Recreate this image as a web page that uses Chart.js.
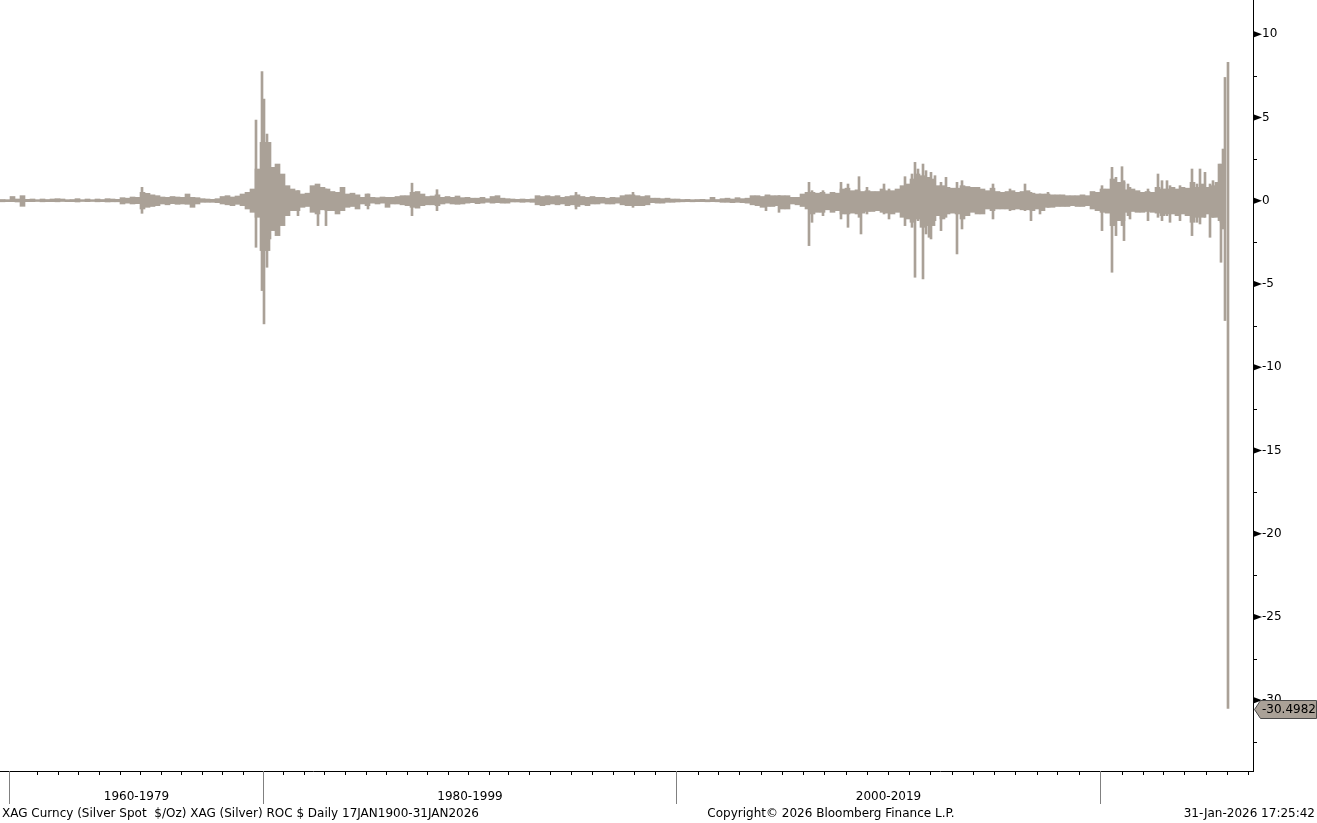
<!DOCTYPE html>
<html>
<head>
<meta charset="utf-8">
<title>XAG ROC Daily</title>
<script src="https://cdn.jsdelivr.net/npm/chart.js@4.4.1/dist/chart.umd.min.js"></script>
<style>
  html, body { margin: 0; padding: 0; background: #fff; }
  canvas { display: block; }
</style>
</head>
<body>
<canvas id="rocChart" width="1317" height="823"></canvas>
<script>
// x unit = observation bucket (~60 sessions after 1969, history before is compressed like the terminal does)
// envelope: typical daily ROC range (%) inside each bucket
const envHi = [
  0.07, 0.06, 0.25, 0.1, 0.3, 0.08, 0.1, 0.06, 0.1, 0.07,
  0.1, 0.12, 0.1, 0.06, 0.07, 0.12, 0.06, 0.1, 0.06, 0.1,
  0.07, 0.12, 0.1, 0.08, 0.18, 0.15, 0.22, 0.2, 0.5, 0.44,
  0.35, 0.3, 0.22, 0.2, 0.25, 0.22, 0.2, 0.4, 0.2, 0.18,
  0.12, 0.1, 0.08, 0.12, 0.25, 0.3, 0.22, 0.28, 0.4, 0.5,
  0.7, 1.9, 3.5, 3.5, 2.0, 2.2, 1.6, 0.9, 0.7, 0.6,
  0.4, 0.45, 0.9, 1.0, 0.8, 0.7, 0.55, 0.5, 0.8, 0.4,
  0.45, 0.35, 0.2, 0.4, 0.2, 0.18, 0.22, 0.2, 0.2, 0.25,
  0.3, 0.3, 0.5, 0.55, 0.4, 0.25, 0.28, 0.35, 0.2, 0.25,
  0.2, 0.28, 0.18, 0.2, 0.15, 0.15, 0.2, 0.12, 0.25, 0.3,
  0.15, 0.12, 0.1, 0.08, 0.1, 0.08, 0.1, 0.3, 0.25, 0.3,
  0.25, 0.3, 0.2, 0.25, 0.3, 0.35, 0.25, 0.2, 0.25, 0.2,
  0.2, 0.15, 0.2, 0.18, 0.3, 0.35, 0.35, 0.3, 0.25, 0.3,
  0.15, 0.15, 0.12, 0.15, 0.1, 0.1, 0.07, 0.08, 0.06, 0.07,
  0.08, 0.06, 0.2, 0.07, 0.12, 0.15, 0.1, 0.18, 0.12, 0.15,
  0.3, 0.3, 0.25, 0.35, 0.3, 0.3, 0.3, 0.3, 0.2, 0.2,
  0.4, 0.5, 0.5, 0.45, 0.5, 0.4, 0.5, 0.45, 0.7, 0.75,
  0.6, 0.65, 0.55, 0.6, 0.55, 0.55, 0.7, 0.6, 0.6, 0.7,
  0.9, 1.0, 1.3, 1.6, 1.5, 1.4, 1.3, 0.9, 0.9, 0.8,
  0.75, 0.75, 0.9, 0.85, 0.8, 0.8, 0.7, 0.6, 0.75, 0.55,
  0.5, 0.55, 0.6, 0.5, 0.55, 0.6, 0.45, 0.4, 0.4, 0.4,
  0.35, 0.35, 0.35, 0.3, 0.3, 0.3, 0.35, 0.3, 0.55, 0.5,
  0.7, 0.7, 1.3, 1.1, 1.1, 0.65, 0.7, 0.6, 0.5, 0.55,
  0.5, 0.8, 0.7, 0.7, 0.8, 0.7, 0.8, 0.75, 1.1, 0.8,
  1.0, 0.8, 0.9, 1.1, 1.5
];
const envLo = [
  -0.07, -0.06, -0.06, -0.08, -0.34, -0.06, -0.06, -0.05, -0.07, -0.06,
  -0.06, -0.07, -0.05, -0.06, -0.06, -0.08, -0.05, -0.06, -0.05, -0.07,
  -0.06, -0.08, -0.07, -0.07, -0.2, -0.15, -0.2, -0.18, -0.5, -0.4,
  -0.35, -0.3, -0.2, -0.25, -0.18, -0.22, -0.2, -0.22, -0.4, -0.2,
  -0.1, -0.1, -0.1, -0.12, -0.2, -0.25, -0.3, -0.22, -0.3, -0.5,
  -0.7, -1.0, -3.0, -3.0, -1.8, -2.1, -1.5, -0.9, -0.6, -0.6,
  -0.4, -0.35, -0.7, -0.8, -0.55, -0.6, -0.6, -0.8, -0.6, -0.4,
  -0.35, -0.5, -0.2, -0.3, -0.15, -0.2, -0.15, -0.4, -0.2, -0.2,
  -0.25, -0.3, -0.4, -0.45, -0.3, -0.25, -0.25, -0.3, -0.2, -0.15,
  -0.2, -0.22, -0.2, -0.15, -0.12, -0.18, -0.15, -0.1, -0.15, -0.12,
  -0.15, -0.15, -0.08, -0.08, -0.1, -0.08, -0.1, -0.25, -0.3, -0.25,
  -0.2, -0.25, -0.2, -0.3, -0.25, -0.35, -0.25, -0.3, -0.2, -0.2,
  -0.15, -0.2, -0.2, -0.15, -0.25, -0.3, -0.3, -0.3, -0.3, -0.25,
  -0.12, -0.15, -0.15, -0.1, -0.1, -0.08, -0.07, -0.06, -0.07, -0.06,
  -0.06, -0.07, -0.06, -0.07, -0.1, -0.1, -0.12, -0.1, -0.12, -0.15,
  -0.25, -0.3, -0.4, -0.35, -0.35, -0.3, -0.5, -0.5, -0.2, -0.25,
  -0.35, -0.5, -0.8, -0.7, -0.7, -0.55, -0.7, -0.6, -0.8, -0.8,
  -0.75, -0.8, -0.75, -0.65, -0.65, -0.6, -0.7, -0.75, -0.8, -0.7,
  -1.0, -1.1, -1.3, -1.1, -1.6, -1.5, -1.5, -0.9, -1.1, -0.8,
  -0.75, -0.8, -1.1, -0.9, -0.7, -0.8, -0.8, -0.5, -0.6, -0.5,
  -0.5, -0.5, -0.55, -0.5, -0.55, -0.55, -0.6, -0.5, -0.6, -0.4,
  -0.4, -0.35, -0.35, -0.35, -0.3, -0.35, -0.35, -0.3, -0.5, -0.6,
  -0.7, -0.75, -1.5, -1.2, -1.2, -0.7, -0.65, -0.7, -0.7, -0.65,
  -0.7, -0.75, -0.9, -0.8, -0.8, -0.9, -0.8, -0.9, -1.3, -1.0,
  -1.0, -0.8, -1.0, -1.0, -1.3
];

// single-day extremes sticking out of the envelope
const spikePos = [28.4, 51.2, 52.4, 52.8, 53.4, 54.0, 59.6, 63.6, 65.2, 68.4,
  73.6, 82.4, 87.4, 115.2, 126.6, 153.2, 155.8, 161.8, 162.4, 164.6,
  168.2, 169.6, 171.8, 172.2, 173.4, 176.8, 177.8, 181.0, 182.4, 183.0,
  183.6, 184.6, 185.2, 185.8, 186.2, 187.0, 188.2, 189.2, 191.4, 192.4,
  198.6, 202.0, 205.0, 206.2, 208.0, 209.6, 220.4, 222.4, 223.2, 224.4,
  224.8, 225.6, 226.0, 229.6, 231.6, 232.4, 233.4, 234.0, 236.0, 238.4,
  239.4, 240.0, 241.0, 242.0, 242.6, 243.8, 244.2, 244.6, 245.0, 245.6];
const spikeHi = [0.8, 4.84, 7.75, 6.1, 4.0, 3.5, 0.6, 0.8, 0.7, 0.8,
  0.4, 1.05, 0.66, 0.5, 0.5, 0.3, 0.3, 1.1, 0.6, 0.6,
  1.1, 1.0, 1.44, 0.5, 0.8, 1.0, 0.7, 1.44, 1.6, 2.3,
  1.9, 2.2, 1.8, 1.2, 1.7, 1.5, 1.1, 1.4, 1.1, 1.2,
  1.0, 0.7, 1.0, 0.5, 0.4, 0.5, 0.9, 2.0, 1.4, 2.04,
  1.2, 1.0, 0.8, 0.7, 1.6, 1.2, 1.2, 0.9, 0.9, 1.9,
  1.0, 1.9, 1.7, 1.0, 1.2, 2.2, 2.2, 3.1, 7.4, 8.3];
const spikeLo = [-0.76, -2.8, -5.4, -7.4, -4.0, -2.3, -0.9, -1.5, -1.5, -0.5,
  -0.5, -0.9, -0.6, -0.5, -0.4, -0.6, -0.7, -2.7, -1.3, -0.9,
  -1.1, -1.6, -1.0, -2.0, -0.8, -0.8, -1.1, -1.5, -1.6, -4.6,
  -1.2, -4.7, -2.0, -2.2, -2.3, -1.2, -1.8, -1.0, -3.2, -1.7,
  -1.1, -0.6, -0.6, -1.2, -0.8, -0.4, -1.8, -4.3, -2.1, -1.5,
  -2.4, -0.9, -1.1, -1.2, -1.0, -1.2, -0.9, -1.3, -1.2, -2.1,
  -1.3, -1.4, -1.0, -2.2, -1.0, -1.2, -3.7, -1.7, -7.2, -30.4982];
const lastValue = -30.4982;

// year boundaries on the bucket axis
const tickYears = [1960, 1969, 1970, 1971, 1972, 1973, 1974, 1975, 1976, 1977, 1978, 1979,
  1980, 1981, 1982, 1983, 1984, 1985, 1986, 1987, 1988, 1989, 1990, 1991, 1992, 1993,
  1994, 1995, 1996, 1997, 1998, 1999, 2000, 2001, 2002, 2003, 2004, 2005, 2006, 2007,
  2008, 2009, 2010, 2011, 2012, 2013, 2014, 2015, 2016, 2017, 2018, 2019, 2020, 2021,
  2022, 2023, 2024, 2025, 2026, 2027];
const tickPos = [1.86, 7.46, 11.54, 15.66, 19.8, 23.94, 28.0, 32.14, 36.2, 40.34, 44.4, 48.54,
  52.54, 56.66, 60.8, 64.86, 69.0, 73.14, 77.2, 81.34, 85.46, 89.54, 93.66, 97.8, 101.66, 105.86,
  110.0, 114.2, 118.46, 122.66, 126.86, 131.0, 135.26, 139.54, 143.66, 147.86, 152.14, 156.34,
  160.66, 164.8, 169.14, 173.34, 177.54, 181.86, 186.0, 190.34, 194.54, 198.8, 203.06, 207.34,
  211.46, 215.8, 220.0, 224.34, 228.54, 232.66, 236.86, 241.2, 245.34, 249.54];
const periodStarts = [1960, 1980, 2000, 2020];
const periodLabels = ['1960-1979', '1980-1999', '2000-2019'];

const yMin = -34.25;
const yMax = 12.05;
const xMax = 250.6;

const SERIES_COLOR = '#aaa197';
const FONT_FAMILY = "'DejaVu Sans', Verdana, sans-serif";
const TEXT_FONT = "12px " + FONT_FAMILY;

function yearToPos(year) {
  return tickPos[tickYears.indexOf(year)];
}

const envelopeData = envHi.map((hi, i) => ({ x: i + 0.5, y: [envLo[i], hi] }));
const spikeData = spikePos.map((p, i) => ({ x: p, y: [spikeLo[i], spikeHi[i]] }));

const bbgDecor = {
  id: 'bbgDecor',
  afterDraw(chart) {
    const ctx = chart.ctx;
    const area = chart.chartArea;
    const xs = chart.scales.x;
    const ys = chart.scales.y;
    const axisX = Math.round(area.right);
    const base = Math.round(area.bottom);
    ctx.save();

    // major ticks: little arrow heads, minor: short dashes
    ctx.fillStyle = '#000';
    ctx.strokeStyle = '#000';
    ctx.lineWidth = 1;
    for (let v = -30; v <= 10; v += 5) {
      const py = ys.getPixelForValue(v);
      ctx.beginPath();
      ctx.moveTo(axisX + 1, py - 3);
      ctx.lineTo(axisX + 9, py);
      ctx.lineTo(axisX + 1, py + 3);
      ctx.closePath();
      ctx.fill();
    }
    for (let v = -32.5; v <= 10; v += 5) {
      const py = Math.round(ys.getPixelForValue(v)) + 0.5;
      ctx.beginPath();
      ctx.moveTo(axisX + 1, py);
      ctx.lineTo(axisX + 4, py);
      ctx.stroke();
    }

    // year ticks
    tickPos.forEach(p => {
      const px = Math.round(xs.getPixelForValue(p)) + 0.5;
      ctx.beginPath();
      ctx.moveTo(px, base);
      ctx.lineTo(px, base + 4);
      ctx.stroke();
    });

    // period separators + labels
    ctx.strokeStyle = '#808080';
    const sepPx = periodStarts.map(y => Math.round(xs.getPixelForValue(yearToPos(y))) + 0.5);
    sepPx.forEach(px => {
      ctx.beginPath();
      ctx.moveTo(px, base);
      ctx.lineTo(px, base + 33);
      ctx.stroke();
    });
    ctx.fillStyle = '#000';
    ctx.font = TEXT_FONT;
    ctx.textBaseline = 'middle';
    ctx.textAlign = 'center';
    periodLabels.forEach((lbl, i) => {
      ctx.fillText(lbl, (sepPx[i] + sepPx[i + 1]) / 2, base + 26);
    });

    // footer
    ctx.textAlign = 'left';
    ctx.fillText('XAG Curncy (Silver Spot  $/Oz) XAG (Silver) ROC $ Daily 17JAN1900-31JAN2026', 2, base + 43);
    ctx.textAlign = 'center';
    ctx.fillText('Copyright\u00A9 2026 Bloomberg Finance L.P.', 831, base + 43);
    ctx.textAlign = 'right';
    ctx.fillText('31-Jan-2026 17:25:42', 1315, base + 43);

    // last value tag
    const ty = Math.round(ys.getPixelForValue(lastValue));
    ctx.beginPath();
    ctx.moveTo(axisX + 1.5, ty + 0.5);
    ctx.lineTo(axisX + 7.5, ty - 8.5);
    ctx.lineTo(1316.5, ty - 8.5);
    ctx.lineTo(1316.5, ty + 9.5);
    ctx.lineTo(axisX + 7.5, ty + 9.5);
    ctx.closePath();
    ctx.fillStyle = SERIES_COLOR;
    ctx.fill();
    ctx.strokeStyle = '#4a4a4a';
    ctx.stroke();
    ctx.fillStyle = '#000';
    ctx.font = TEXT_FONT;
    ctx.textAlign = 'left';
    ctx.fillText(lastValue.toFixed(4), axisX + 9, ty + 1);

    ctx.restore();
  }
};

new Chart(document.getElementById('rocChart'), {
  type: 'bar',
  data: {
    datasets: [
      { label: 'range', data: envelopeData, backgroundColor: SERIES_COLOR, borderWidth: 0, barThickness: 5, grouped: false },
      { label: 'extremes', data: spikeData, backgroundColor: SERIES_COLOR, borderWidth: 0, barThickness: 2, grouped: false }
    ]
  },
  options: {
    responsive: false,
    animation: false,
    devicePixelRatio: 1,
    layout: { padding: 0 },
    plugins: { legend: { display: false }, tooltip: { enabled: false } },
    scales: {
      x: {
        type: 'linear',
        min: 0,
        max: xMax,
        offset: false,
        grid: { display: false, drawTicks: false },
        border: { display: true, color: '#000', width: 1 },
        ticks: { display: false },
        afterFit: (scale) => {
          scale.height = 52;
          scale.paddingLeft = 0;
          scale.paddingRight = 0;
        }
      },
      y: {
        position: 'right',
        min: yMin,
        max: yMax,
        grid: { display: false, drawTicks: false },
        border: { display: true, color: '#000', width: 1 },
        ticks: {
          stepSize: 5,
          includeBounds: false,
          padding: 9,
          color: '#000',
          font: { family: FONT_FAMILY, size: 12 }
        },
        afterFit: (scale) => {
          scale.width = 64;
          scale.paddingTop = 0;
          scale.paddingBottom = 0;
        }
      }
    }
  },
  plugins: [bbgDecor]
});
</script>
</body>
</html>
